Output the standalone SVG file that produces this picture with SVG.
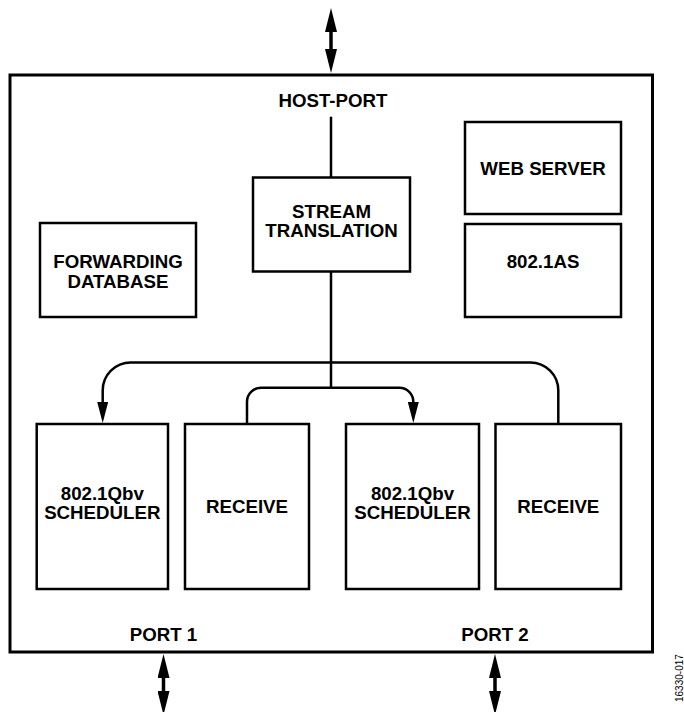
<svg xmlns="http://www.w3.org/2000/svg" width="684" height="712" viewBox="0 0 684 712">
<style>
.box{fill:#fff;stroke:#000;stroke-width:2.5}
.frame{fill:#fff;stroke:#000;stroke-width:3}
.lbl{font-family:"Liberation Sans",Arial,Helvetica,sans-serif;font-weight:bold;font-size:18.7px;text-anchor:middle;fill:#000}
.con{fill:none;stroke:#000;stroke-width:2.5}
.io{fill:none;stroke:#000;stroke-width:3.5}
.note{font-family:"Liberation Sans",Arial,Helvetica,sans-serif;font-size:10px;fill:#000}
</style>
<defs>
<marker id="bigHead" viewBox="0 0 24 12" refX="0" refY="6" markerWidth="24" markerHeight="12" markerUnits="userSpaceOnUse" orient="auto-start-reverse">
<path d="M0,0 L24,6 L0,12 z" fill="#000"/>
</marker>
<marker id="head" viewBox="0 0 21 11" refX="0" refY="5.5" markerWidth="21" markerHeight="11" markerUnits="userSpaceOnUse" orient="auto">
<path d="M0,0 L21,5.5 L0,11 z" fill="#000"/>
</marker>
</defs>

<g id="frame">
<rect class="frame" x="10" y="75" width="642.5" height="577"/>
<text class="lbl" x="333" y="107">HOST-PORT</text>
<text class="lbl" x="163.5" y="641">PORT 1</text>
<text class="lbl" x="495" y="641">PORT 2</text>
</g>

<g id="connectors">
<line class="io" x1="331" y1="32" x2="331" y2="49" marker-start="url(#bigHead)" marker-end="url(#bigHead)"/>
<line class="io" x1="163.5" y1="678" x2="163.5" y2="691" marker-start="url(#bigHead)" marker-end="url(#bigHead)"/>
<line class="io" x1="495" y1="678" x2="495" y2="691" marker-start="url(#bigHead)" marker-end="url(#bigHead)"/>
<path class="con" d="M331 116.7 V177.5"/>
<path class="con" d="M331 271.5 V387.7"/>
<path class="con" d="M558.3 424 V390.5 A28 28 0 0 0 530.3 362.5 H130.7 A28 28 0 0 0 102.7 390.5 V402" marker-end="url(#head)"/>
<path class="con" d="M247 424 V401.7 A14 14 0 0 1 261 387.7 H399.3 A14 14 0 0 1 413.3 401.7 V402" marker-end="url(#head)"/>
</g>

<g id="stream-translation">
<rect class="box" x="253" y="177.5" width="157" height="94"/>
<text class="lbl" x="331.5" y="218">STREAM</text>
<text class="lbl" x="331.5" y="237">TRANSLATION</text>
</g>

<g id="forwarding-database">
<rect class="box" x="40" y="223" width="156" height="94"/>
<text class="lbl" x="118" y="268">FORWARDING</text>
<text class="lbl" x="118" y="288">DATABASE</text>
</g>

<g id="web-server">
<rect class="box" x="465" y="122" width="156" height="92"/>
<text class="lbl" x="543" y="175">WEB SERVER</text>
</g>

<g id="as">
<rect class="box" x="465" y="224" width="156" height="93"/>
<text class="lbl" x="543" y="268">802.1AS</text>
</g>

<g id="scheduler-1">
<rect class="box" x="36.7" y="424" width="131.3" height="165"/>
<text class="lbl" x="102.3" y="500">802.1Qbv</text>
<text class="lbl" x="102.3" y="519">SCHEDULER</text>
</g>

<g id="receive-1">
<rect class="box" x="185" y="424" width="124" height="165"/>
<text class="lbl" x="247" y="513.3">RECEIVE</text>
</g>

<g id="scheduler-2">
<rect class="box" x="346" y="424" width="133" height="165"/>
<text class="lbl" x="412.5" y="500">802.1Qbv</text>
<text class="lbl" x="412.5" y="519">SCHEDULER</text>
</g>

<g id="receive-2">
<rect class="box" x="495.5" y="424" width="125.5" height="165"/>
<text class="lbl" x="558.3" y="513.3">RECEIVE</text>
</g>

<text class="note" transform="translate(683,702) rotate(-90)">16330-017</text>
</svg>
